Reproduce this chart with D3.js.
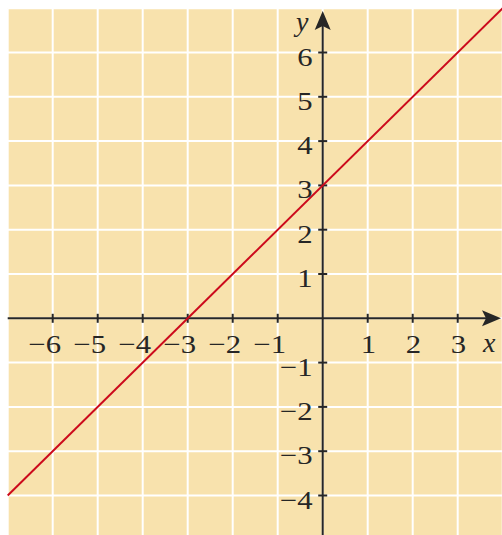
<!DOCTYPE html>
<html>
<head>
<meta charset="utf-8">
<script src="https://cdn.jsdelivr.net/npm/d3@7"></script>
<style>
html,body{margin:0;padding:0;background:#fff;}
svg{display:block;}
</style>
</head>
<body>
<svg id="chart" width="502" height="535"></svg>
<script>
// ---- data ----
const xTicks = [-6, -5, -4, -3, -2, -1, 1, 2, 3];
const yTicks = [-4, -3, -2, -1, 1, 2, 3, 4, 5, 6];
const xGrid = [-7, -6, -5, -4, -3, -2, -1, 0, 1, 2, 3, 4];
const yGrid = [-5, -4, -3, -2, -1, 0, 1, 2, 3, 4, 5, 6, 7];
const lineX = [-7, 4];
const lineY = [-4, 7];
const xDomain = [-7, 4];
const yDomain = [-5, 7];

const W = 502, H = 535;
const svg = d3.select("#chart");

const x = d3.scaleLinear().domain(xDomain).range([322.7 - 7 * 45, 322.7 + 4 * 45]);
const y = d3.scaleLinear().domain(yDomain).range([318.3 + 5 * 44.3, 318.3 - 7 * 44.3]);

const BG = "#f8e2ad", AX = "#262626", RED = "#cc0a1c";
const FONT = "'Liberation Serif', 'Times New Roman', serif";

// background
svg.append("rect")
  .attr("x", x(-7)).attr("y", y(7))
  .attr("width", W - x(-7)).attr("height", H - y(7))
  .attr("fill", BG);

// grid
svg.append("g").selectAll("line").data(xGrid).join("line")
  .attr("x1", d => x(d)).attr("x2", d => x(d))
  .attr("y1", y(7)).attr("y2", H)
  .attr("stroke", "#fff").attr("stroke-width", 2);
svg.append("g").selectAll("line").data(yGrid).join("line")
  .attr("x1", x(-7)).attr("x2", W)
  .attr("y1", d => y(d)).attr("y2", d => y(d))
  .attr("stroke", "#fff").attr("stroke-width", 2);

// axes
const x0 = x(0), y0 = y(0);
svg.append("line").attr("x1", x(-7)).attr("x2", 488).attr("y1", y0).attr("y2", y0)
  .attr("stroke", AX).attr("stroke-width", 2);
svg.append("line").attr("x1", x0).attr("x2", x0).attr("y1", H).attr("y2", 24)
  .attr("stroke", AX).attr("stroke-width", 2);
// arrowheads
svg.append("path")
  .attr("d", `M501,${y0} L482,${y0 - 8} L486,${y0} L482,${y0 + 8} Z`)
  .attr("fill", AX);
svg.append("path")
  .attr("d", `M${x0},11 L${x0 - 8},30 L${x0},26 L${x0 + 8},30 Z`)
  .attr("fill", AX);

// ticks
svg.append("g").selectAll("line").data(xTicks).join("line")
  .attr("x1", d => x(d)).attr("x2", d => x(d))
  .attr("y1", y0 - 4.5).attr("y2", y0 + 4.5)
  .attr("stroke", AX).attr("stroke-width", 2);
svg.append("g").selectAll("line").data(yTicks).join("line")
  .attr("y1", d => y(d)).attr("y2", d => y(d))
  .attr("x1", x0 - 4.5).attr("x2", x0 + 4.5)
  .attr("stroke", AX).attr("stroke-width", 2);

// red line
svg.append("path")
  .datum(lineX.map((v, i) => [v, lineY[i]]))
  .attr("d", d3.line().x(d => x(d[0])).y(d => y(d[1])))
  .attr("stroke", RED).attr("stroke-width", 2).attr("fill", "none");

const fmt = d => (d < 0 ? "\u2212" + Math.abs(d) : String(d));
const SX = 1.18;

// tick labels (slightly widened glyphs)
svg.append("g").selectAll("text").data(xTicks).join("text")
  .attr("transform", d => `translate(${x(d) + 8.5},353) scale(${SX},1)`)
  .attr("text-anchor", "end")
  .attr("font-family", FONT).attr("font-size", 26).attr("fill", AX)
  .text(fmt);
svg.append("g").selectAll("text").data(yTicks).join("text")
  .attr("transform", d => `translate(${x0 - 10},${y(d) + 13}) scale(${SX},1)`)
  .attr("text-anchor", "end")
  .attr("font-family", FONT).attr("font-size", 26).attr("fill", AX)
  .text(fmt);

// axis labels
svg.append("text").attr("x", 483).attr("y", 352)
  .attr("font-family", FONT).attr("font-style", "italic").attr("font-size", 28).attr("fill", AX)
  .text("x");
svg.append("text").attr("x", 296).attr("y", 31)
  .attr("font-family", FONT).attr("font-style", "italic").attr("font-size", 28).attr("fill", AX)
  .text("y");
</script>
</body>
</html>
